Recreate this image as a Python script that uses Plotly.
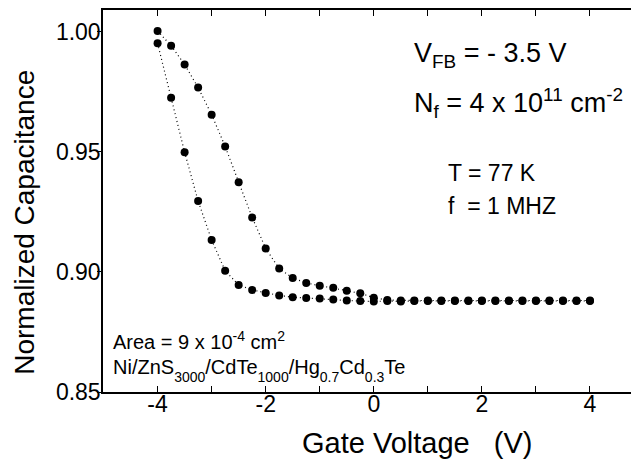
import plotly.graph_objects as go

# Gate voltage (V), 0.25 V steps
voltage = [-4.0, -3.75, -3.5, -3.25, -3.0, -2.75, -2.5, -2.25, -2.0, -1.75, -1.5, -1.25,
           -1.0, -0.75, -0.5, -0.25, 0.0, 0.25, 0.5, 0.75, 1.0, 1.25, 1.5, 1.75, 2.0,
           2.25, 2.5, 2.75, 3.0, 3.25, 3.5, 3.75, 4.0]

# Steeper (left) branch
cap_left = [0.9952, 0.9726, 0.9499, 0.9295, 0.9133, 0.9005, 0.8946, 0.8925, 0.8912, 0.8902,
            0.8895, 0.8891, 0.8889, 0.8885, 0.8881, 0.8879, 0.8877, 0.8879, 0.8877, 0.8879,
            0.8879, 0.8879, 0.8879, 0.8879, 0.8879, 0.8879, 0.8879, 0.8879, 0.8879, 0.8879,
            0.8879, 0.8879, 0.8879]

# Shifted (right) branch
cap_right = [1.0004, 0.9942, 0.9864, 0.9768, 0.9655, 0.9523, 0.9374, 0.9227, 0.9098, 0.9014,
             0.8975, 0.8954, 0.8943, 0.8934, 0.8922, 0.8911, 0.8893, 0.8883, 0.8881, 0.8881,
             0.8881, 0.8881, 0.8881, 0.8881, 0.8881, 0.8881, 0.8881, 0.8881, 0.8881, 0.8881,
             0.8881, 0.8881, 0.8881]

x_tickvals = [-4, -3, -2, -1, 0, 1, 2, 3, 4]
x_ticktext = ["-4", "", "-2", "", "0", "", "2", "", "4"]
y_tickvals = [0.85, 0.90, 0.95, 1.00]
y_ticktext = ["0.85", "0.90", "0.95", "1.00"]

FONT = "Arial, Liberation Sans, sans-serif"

fig = go.Figure()
for cap in (cap_left, cap_right):
    fig.add_trace(go.Scatter(
        x=voltage, y=cap, mode="lines+markers",
        line=dict(color="black", width=1.2, dash="1px,3px"),
        marker=dict(color="black", size=8),
        showlegend=False,
    ))

# page has an 8px body margin, so the figure is sized to fit the window
fig.update_layout(
    width=631, height=457,
    margin=dict(l=95, r=0, t=1, b=73),
    paper_bgcolor="white", plot_bgcolor="white",
    font=dict(family=FONT, color="black"),
    xaxis=dict(
        range=[-5.01, 4.87], tickvals=x_tickvals, ticktext=x_ticktext,
        ticks="inside", ticklen=6, tickwidth=1.2, tickcolor="black",
        showline=True, linecolor="black", linewidth=1.5, mirror="ticks",
        showgrid=False, zeroline=False, ticklabelstandoff=-9,
        tickfont=dict(size=23, family=FONT),
    ),
    yaxis=dict(
        range=[0.85, 1.0091], tickvals=y_tickvals, ticktext=y_ticktext,
        ticks="outside", ticklen=4, tickwidth=1.2, tickcolor="black",
        showline=True, linecolor="black", linewidth=1.5, mirror=True,
        showgrid=False, zeroline=False, ticklabelstandoff=-8,
        tickfont=dict(size=23, family=FONT),
    ),
    yaxis2=dict(
        range=[0.85, 1.0091], tickvals=y_tickvals, showticklabels=False,
        overlaying="y", side="right", ticks="inside", ticklen=5,
        tickcolor="black", showgrid=False, zeroline=False,
    ),
)
# invisible trace to activate right-side ticks
fig.add_trace(go.Scatter(x=[voltage[0]], y=[cap_left[0]], yaxis="y2", mode="markers",
                         marker=dict(opacity=0), showlegend=False, hoverinfo="skip"))

SUB = '<sub><span style="baseline-shift:-4px">{}</span></sub>'
ni_text = ("Ni/ZnS" + SUB.format("3000") + "/CdTe" + SUB.format("1000") + "/Hg"
           + SUB.format("0.7") + "Cd" + SUB.format("0.3") + "Te")

ann = [
    dict(text="Gate Voltage\u00a0\u00a0\u00a0(V)", x=0.5896, y=-0.133, size=29, xa="center", angle=0),
    dict(text="Normalized Capacitance", x=-0.146, y=0.443, size=28, xa="center", angle=-90),
    dict(text="V<sub>FB</sub> = - 3.5 V", x=0.578, y=0.883, size=27, xa="left", angle=0),
    dict(text="N<sub>f</sub> = 4 x 10<sup>11</sup> cm<sup>-2</sup>", x=0.578, y=0.757, size=27, xa="left", angle=0),
    dict(text="T = 77 K", x=0.642, y=0.572, size=23, xa="left", angle=0),
    dict(text="f \u00a0= 1 MHZ", x=0.642, y=0.487, size=23, xa="left", angle=0),
    dict(text="Area = 9 x 10<sup>-4</sup> cm<sup>2</sup>", x=0.015, y=0.136, size=20, xa="left", angle=0),
    dict(text=ni_text, x=0.015, y=0.055, size=20, xa="left", angle=0),
]
for a in ann:
    fig.add_annotation(text=a["text"], x=a["x"], y=a["y"], xref="paper", yref="paper",
                       xanchor=a["xa"], yanchor="middle", textangle=a["angle"],
                       showarrow=False, font=dict(size=a["size"], family=FONT, color="black"))

fig.write_html("out.html")
